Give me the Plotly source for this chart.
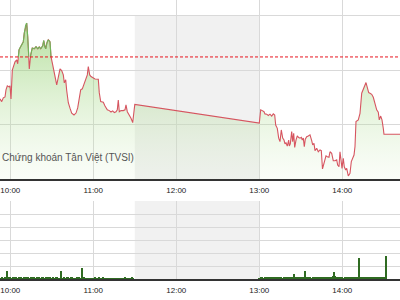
import numpy as np
import pandas as pd
import plotly.graph_objects as go

DAY = "2017-06-01 "

# ---- index line (time, value) ----
times = [
    "09:52:33", "09:53:47", "09:54:56", "09:56:10", "09:56:53", "09:57:50", "09:59:04", "09:59:47",
    "10:00:30", "10:01:27", "10:02:40", "10:03:24", "10:04:38", "10:05:21", "10:06:17", "10:07:31",
    "10:08:40", "10:09:24", "10:10:07", "10:11:08", "10:11:51", "10:12:35", "10:13:31", "10:13:44",
    "10:14:45", "10:15:54", "10:17:21", "10:18:35", "10:19:48", "10:20:58", "10:21:59", "10:23:25",
    "10:24:09", "10:24:52", "10:25:35", "10:26:32", "10:27:28", "10:28:42", "10:29:25", "10:30:39",
    "10:31:48", "10:32:49", "10:33:33", "10:34:42", "10:35:56", "10:37:09", "10:38:19", "10:39:02",
    "10:40:03", "10:40:46", "10:41:56", "10:43:09", "10:44:23", "10:46:03", "10:47:30", "10:48:43",
    "10:49:53", "10:50:53", "10:52:03", "10:53:30", "10:54:30", "10:55:40", "10:56:23", "10:57:24",
    "10:58:20", "10:59:34", "11:01:14", "11:03:37", "11:04:20", "11:05:21", "11:07:14", "11:08:28",
    "11:10:07", "11:11:34", "11:12:48", "11:14:01", "11:15:11", "11:16:24", "11:17:21", "11:18:04",
    "11:18:48", "11:20:01", "11:21:41", "11:22:55", "11:23:38", "11:24:35", "11:26:01", "11:27:15",
    "11:28:29", "11:29:25", "11:30:00",
    "13:00:00", "13:01:01", "13:02:10", "13:03:24", "13:04:07", "13:05:21", "13:06:31", "13:07:44",
    "13:08:58", "13:10:07", "13:11:08", "13:11:51", "13:13:01", "13:14:01", "13:14:58", "13:15:54",
    "13:16:55", "13:17:51", "13:18:35", "13:19:18", "13:20:14", "13:21:15", "13:21:41", "13:22:25",
    "13:23:25", "13:24:09", "13:24:52", "13:25:35", "13:26:32", "13:27:28", "13:28:29", "13:29:25",
    "13:30:22", "13:31:05", "13:31:49", "13:32:32", "13:33:15", "13:34:16", "13:35:25", "13:36:39",
    "13:37:53", "13:38:36", "13:39:32", "13:40:16", "13:41:29", "13:42:39", "13:43:53", "13:44:50",
    "13:45:41", "13:47:17", "13:48:13", "13:49:10", "13:50:23", "13:51:07", "13:52:20", "13:53:29",
    "13:54:43", "13:55:57", "13:56:40", "13:57:37", "13:58:20", "13:59:04", "13:59:47", "14:00:43",
    "14:01:26", "14:02:28", "14:03:11", "14:04:20", "14:05:34", "14:06:31", "14:07:31", "14:08:28",
    "14:09:11", "14:09:54", "14:11:34", "14:12:48", "14:14:02", "14:15:11", "14:16:25", "14:17:08",
    "14:18:04", "14:19:05", "14:20:01", "14:21:15", "14:22:25", "14:23:38", "14:24:52", "14:26:01",
    "14:26:44", "14:27:46", "14:28:42", "14:29:38", "14:30:08", "14:45:00",
]
values = [
    556.94, 556.84, 556.98, 557.01, 557.27, 557.42, 557.38, 557.42,
    556.94, 558.00, 558.19, 558.30, 558.37, 558.23, 558.74, 558.86,
    558.96, 559.04, 559.36, 559.66, 559.72, 559.23, 558.37, 558.04,
    558.56, 558.81, 558.78, 558.86, 558.78, 558.85, 558.78, 558.89,
    559.08, 558.85, 558.78, 559.01, 559.11, 559.04, 558.49, 558.19,
    557.82, 557.64, 557.45, 557.82, 558.04, 557.98, 557.82, 557.53,
    557.64, 557.25, 556.80, 556.60, 556.42, 556.35, 556.42, 556.61,
    556.98, 557.27, 557.31, 557.53, 557.71, 557.82, 558.13, 557.82,
    557.76, 557.71, 557.67, 557.66, 557.16, 556.84, 556.82, 556.68,
    556.54, 556.51, 556.46, 556.50, 556.44, 556.47, 556.54, 556.90,
    556.47, 556.51, 556.51, 556.54, 556.72, 556.47, 556.35, 556.23,
    556.07, 556.68, 556.74,
    556.05, 556.54, 556.51, 556.47, 556.39, 556.38, 556.33, 556.38,
    556.31, 556.39, 556.35, 555.98, 555.86, 555.50, 555.37, 555.80,
    555.50, 555.43, 555.29, 555.33, 555.21, 555.43, 555.21, 555.29,
    555.74, 555.37, 555.68, 555.16, 555.43, 555.58, 555.52, 555.50,
    555.53, 555.43, 555.50, 555.19, 555.46, 555.55, 555.58, 555.62,
    555.41, 555.25, 555.31, 555.04, 555.13, 555.00, 555.07, 555.04,
    554.37, 554.72, 554.85, 554.82, 554.80, 555.00, 554.94, 554.67,
    554.67, 554.70, 554.51, 554.45, 555.00, 554.70, 554.39, 554.76,
    554.45, 554.33, 554.39, 554.11, 554.21, 554.64, 554.76, 554.88,
    555.19, 556.11, 556.17, 556.41, 557.15, 557.33, 557.45, 557.54,
    557.33, 557.17, 557.15, 557.11, 557.00, 556.78, 556.54, 556.45,
    556.17, 556.31, 556.17, 555.86, 555.64, 555.64,
]
ref_value = 558.48  # reference (previous close)

# ---- volume (thousand shares, one bar per minute) ----
vol_am_start = "09:53"
vol_am = [
    30, 50, 20, 40, 60, 325, 45, 70, 30, 55,
    40, 65, 30, 50, 45, 70, 35, 60, 40, 50,
    55, 30, 45, 60, 40, 35, 50, 45, 70, 30,
    60, 40, 25, 50, 80, 30, 45, 20, 55, 35,
    40, 65, 30, 20, 300, 35, 50, 25, 40, 60,
    30, 45, 80, 35, 20, 40, 55, 70, 30, 425,
    40, 20, 15, 10, 15, 10, 35, 20, 45, 15,
    25, 50, 15, 10, 40, 15, 10, 10, 15, 30,
    10, 15, 10, 10, 15, 10, 35, 10, 15, 10,
    40, 15, 10, 30, 10, 45, 20,
]
vol_pm_start = "13:00"
vol_pm = [
    30, 45, 60, 35, 50, 70, 40, 55, 45, 60,
    50, 40, 65, 45, 55, 40, 60, 35, 50, 45,
    70, 40, 55, 60, 45, 205, 50, 60, 40, 70,
    55, 80, 45, 320, 60, 40, 55, 45, 35, 50,
    60, 40, 45, 55, 35, 60, 40, 50, 70, 55,
    45, 60, 90, 110, 255, 100, 80, 60, 45, 40,
    55, 35, 50, 60, 40, 45, 55, 70, 40, 50,
    60, 80, 810, 45, 55, 35, 50, 40, 60, 45,
    50, 40, 55, 70, 60, 90, 80, 45, 60, 70,
    40, 50, 870,
]

source_text = "Chứng khoán Tân Việt (TVSI)"
lunch_start, lunch_end = "11:30", "13:00"
x_start, x_end = "09:52:33", "14:41:43"
price_range = (554, 560.57)
price_grid = 2
vol_range = (0, 3000)
vol_grid = 500

# ---------------------------------------------------------------
t = pd.to_datetime([DAY + s for s in times])
v = np.array(values)

# green part of the line (above reference)
tn = t.astype("int64").to_numpy().astype(float)
gx, gy = [], []
for i in range(len(v) - 1):
    a, b = v[i] - ref_value, v[i + 1] - ref_value
    if a >= 0 and b >= 0:
        gx += [tn[i], tn[i + 1], None]
        gy += [v[i], v[i + 1], None]
    elif a >= 0 > b or b >= 0 > a:
        f = a / (a - b)
        tc = tn[i] + f * (tn[i + 1] - tn[i])
        if a >= 0:
            gx += [tn[i], tc, None]
            gy += [v[i], ref_value, None]
        else:
            gx += [tc, tn[i + 1], None]
            gy += [ref_value, v[i + 1], None]
gx_dt = [pd.Timestamp(int(x)) if x is not None else None for x in gx]

vol_t = list(pd.date_range(DAY + vol_am_start, periods=len(vol_am), freq="1min")) + \
        list(pd.date_range(DAY + vol_pm_start, periods=len(vol_pm), freq="1min"))
vol = vol_am + vol_pm

fig = go.Figure()
fig.add_trace(go.Scatter(
    x=t, y=v, mode="lines",
    line=dict(color="#d65560", width=1.1),
    fill="tozeroy",
    fillgradient=dict(type="vertical",
                      colorscale=[[0, "rgba(205,235,185,0.10)"], [1, "rgba(130,200,90,0.60)"]],
                      start=price_range[0], stop=559.8),
    hoverinfo="skip",
))
fig.add_trace(go.Scatter(x=gx_dt, y=gy, mode="lines",
                         line=dict(color="#6cb85a", width=1.1), hoverinfo="skip"))
fig.add_trace(go.Bar(x=vol_t, y=vol, xaxis="x2", yaxis="y2",
                     marker=dict(color="#2f6b22", line=dict(width=0)), width=50000))

# lunch shading
fig.add_shape(type="rect", xref="x", yref="y", x0=DAY + lunch_start, x1=DAY + lunch_end,
              y0=price_range[0], y1=560, fillcolor="#f1f1f1", line_width=0, layer="below")
fig.add_shape(type="rect", xref="x2", yref="y2", x0=DAY + lunch_start, x1=DAY + lunch_end,
              y0=vol_range[0], y1=vol_range[1], fillcolor="#f1f1f1", line_width=0, layer="below")
# reference line
fig.add_shape(type="line", xref="paper", yref="y", x0=0, x1=1, y0=ref_value, y1=ref_value,
              line=dict(color="#e8141e", width=1, dash="3px,2px"), layer="above")

fig.add_annotation(text=source_text, xref="paper", yref="paper", x=0, y=1 - 158 / 300,
                   xanchor="left", yanchor="middle", showarrow=False,
                   font=dict(family="Liberation Sans, Arial", size=10, color="#555"))

xcommon = dict(type="date", range=[DAY + x_start, DAY + x_end], tickformat="%H:%M",
               dtick=3600000, tick0=DAY + "10:00", showgrid=True, gridcolor="#d9d9d9",
               gridwidth=1, showline=True, linecolor="#333", linewidth=1.5,
               ticks="outside", ticklen=3, tickcolor="rgba(0,0,0,0)",
               tickfont=dict(family="Liberation Sans, Arial", size=8, color="#222"),
               zeroline=False)

fig.update_layout(
    width=400, height=300, margin=dict(l=0, r=0, t=0, b=0),
    paper_bgcolor="white", plot_bgcolor="white", showlegend=False, bargap=0,
    xaxis=dict(domain=[0, 1], anchor="y", **xcommon),
    yaxis=dict(domain=[1 - 179 / 300, 1], range=list(price_range), dtick=price_grid,
               tick0=554, showgrid=True, gridcolor="#d9d9d9", showticklabels=False,
               zeroline=False),
    xaxis2=dict(domain=[0, 1], anchor="y2", matches="x", **xcommon),
    yaxis2=dict(domain=[21 / 300, 99 / 300], range=list(vol_range), dtick=vol_grid,
                tick0=0, showgrid=True, gridcolor="#d9d9d9", showticklabels=False,
                zeroline=False),
)

fig.write_html("out.html")
